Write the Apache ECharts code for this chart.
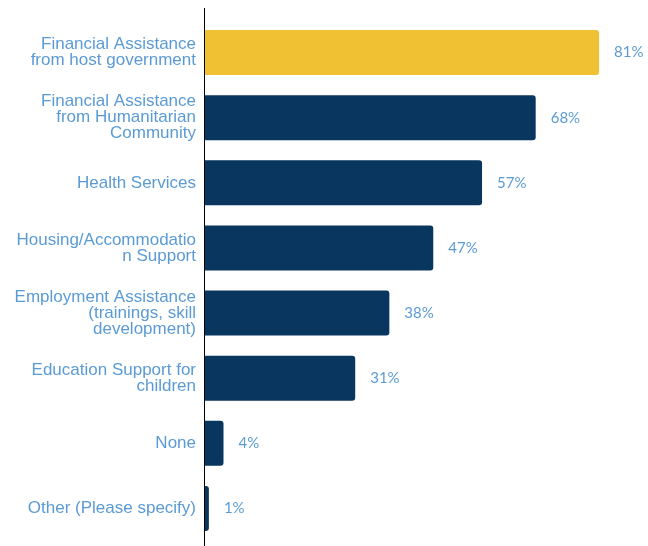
<!DOCTYPE html>
<html>
<head>
<meta charset="utf-8">
<script src="https://cdn.jsdelivr.net/npm/echarts@6/dist/echarts.min.js"></script>
<style>
  html, body { margin: 0; padding: 0; background: #fff; }
  #chart { width: 648px; height: 546px; }
</style>
</head>
<body>
<div id="chart"></div>
<script>
// Support received, share of respondents (%)
const categories = [
  'Financial Assistance\nfrom host government',
  'Financial Assistance\nfrom Humanitarian\nCommunity',
  'Health Services',
  'Housing/Accommodatio\nn Support',
  'Employment Assistance\n(trainings, skill\ndevelopment)',
  'Education Support for\nchildren',
  'None',
  'Other (Please specify)'
];
const values = [81, 68, 57, 47, 38, 31, 4, 1];

const NAVY = '#08365f';
const GOLD = '#f0c233';
const LABEL_BLUE = '#5b9bd5';

const chart = echarts.init(document.getElementById('chart'), null, { renderer: 'canvas' });

chart.setOption({
  animation: false,
  grid: { left: 204, right: 5, top: 20, bottom: 5, containLabel: false },
  xAxis: {
    type: 'value',
    min: 0,
    max: 90,
    show: false
  },
  yAxis: {
    type: 'category',
    inverse: true,
    data: categories,
    axisLine: { show: false },
    axisTick: { show: false },
    splitLine: { show: false },
    axisLabel: {
      margin: 8,
      align: 'right',
      color: LABEL_BLUE,
      fontFamily: 'Liberation Sans',
      fontSize: 17,
      lineHeight: 16
    }
  },
  series: [{
    type: 'bar',
    barWidth: 45,
    data: values.map((v, i) => ({
      value: v,
      itemStyle: { color: i === 0 ? GOLD : NAVY }
    })),
    itemStyle: { borderRadius: [0, 3, 3, 0] },
    label: {
      show: true,
      position: 'right',
      distance: 15,
      formatter: '{c}%',
      color: LABEL_BLUE,
      fontFamily: 'Lato',
      fontSize: 15
    }
  }],
  graphic: [{
    type: 'line',
    shape: { x1: 204.5, y1: 8, x2: 204.5, y2: 546 },
    style: { stroke: '#000', lineWidth: 1 },
    z: 10
  }]
});
</script>
</body>
</html>
